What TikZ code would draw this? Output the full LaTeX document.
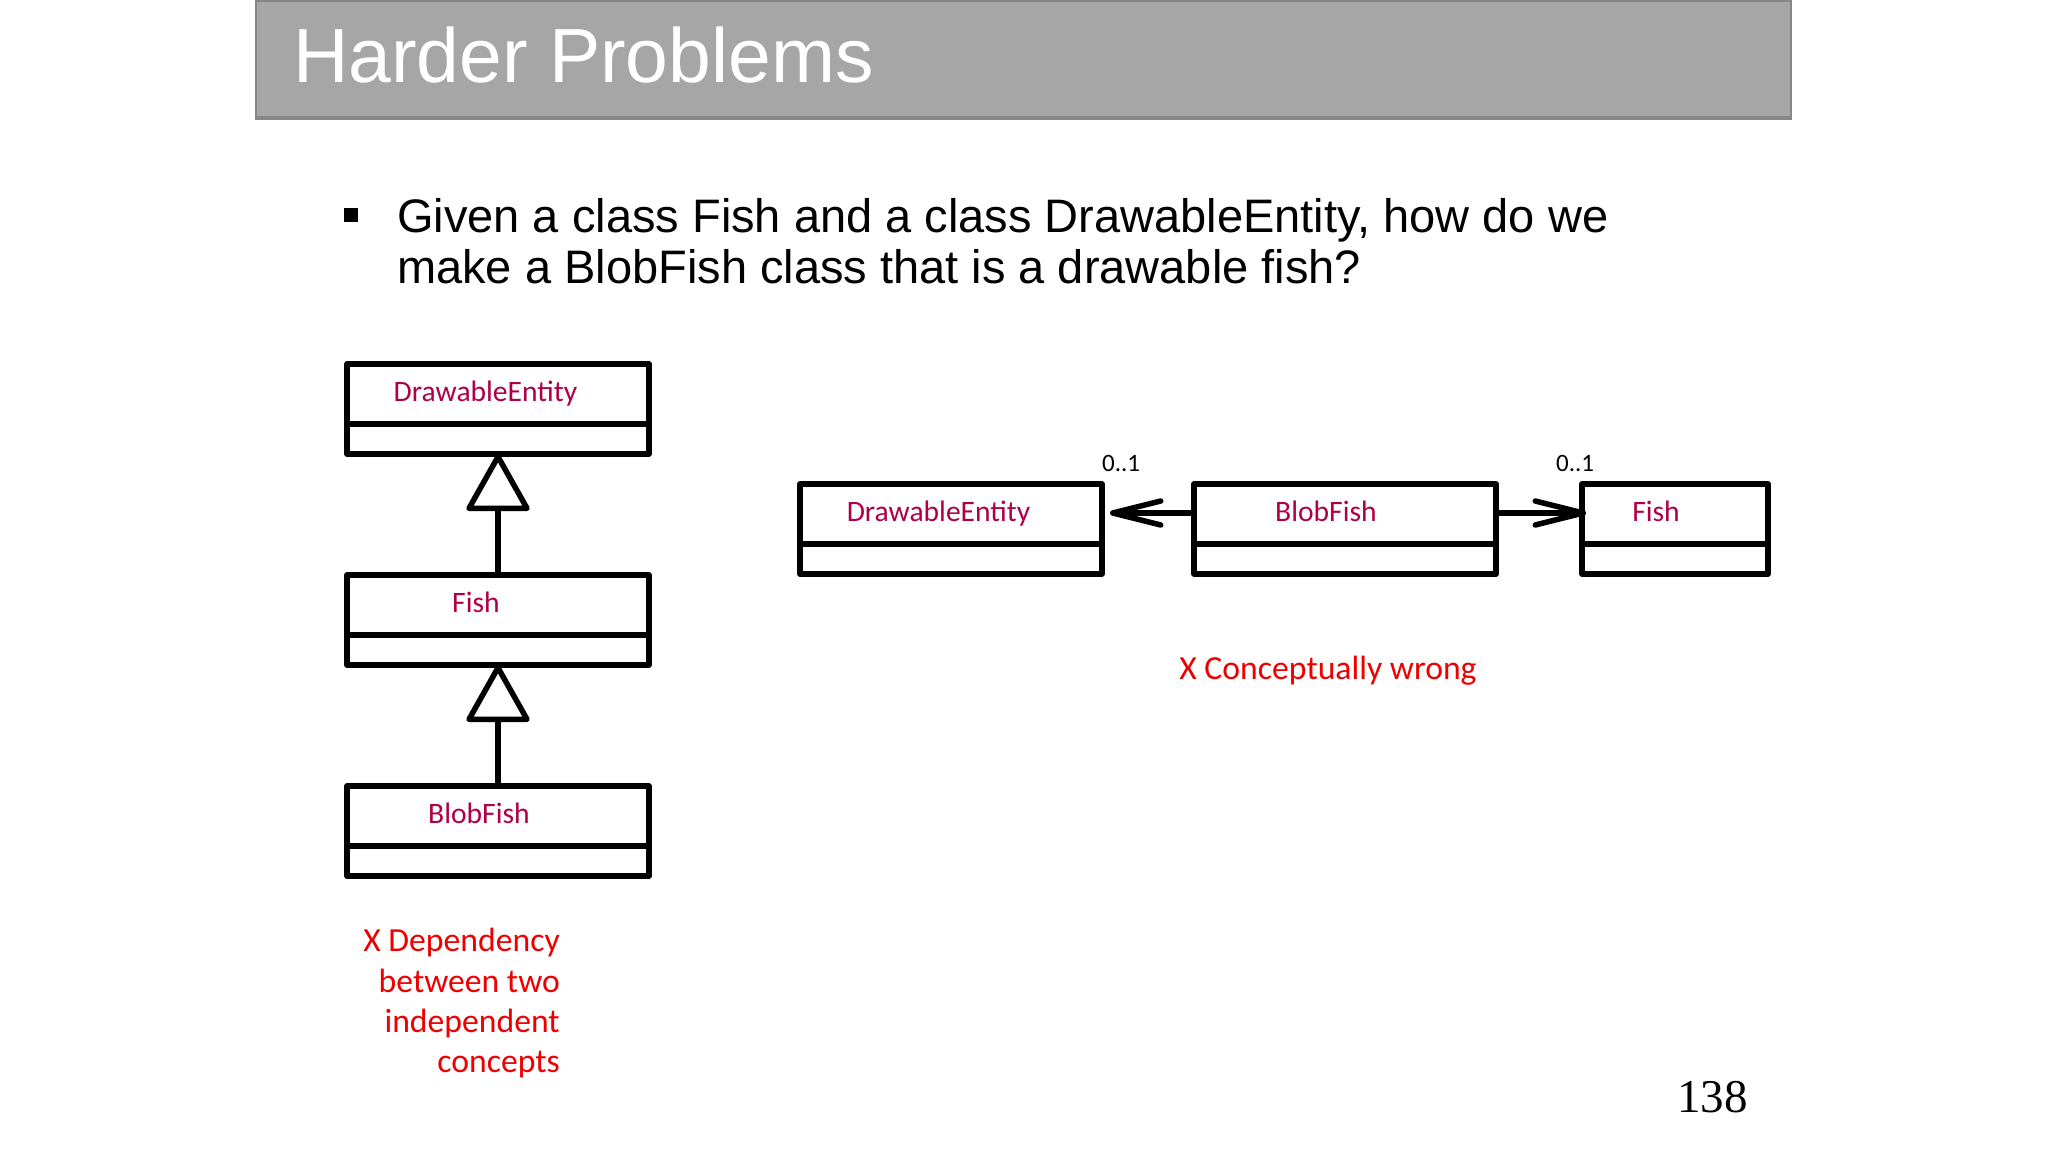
\documentclass[tikz,border=0pt]{standalone}
\usepackage{fontspec}
\usetikzlibrary{arrows.meta}
\newfontfamily\slidefont{Liberation Sans}
\newfontfamily\umlfont{Carlito}
\newfontfamily\pagefont{Liberation Serif}
\definecolor{titlegray}{HTML}{A6A6A6}
\definecolor{titleedge}{HTML}{868686}
\definecolor{umlred}{HTML}{AE0048}
\definecolor{warnred}{HTML}{EE0000}
\tikzset{
    umlclass/.style={draw, line width=5.5pt, line join=round, minimum width=302pt, minimum height=90pt, inner sep=0pt, outer sep=0pt},
    divider/.style={line width=5.5pt},
    classlabel/.style={anchor=base, inner sep=0pt, text=umlred, font={\umlfont\fontsize{29.6}{33}\selectfont}},
    mult/.style={anchor=base west, inner sep=0pt, font={\umlfont\fontsize{25}{30}\selectfont}},
    warn/.style={inner sep=0pt, text=warnred, font={\umlfont\fontsize{33.7}{40}\selectfont}},
    slidetext/.style={anchor=base west, inner sep=0pt, font={\slidefont\fontsize{47}{52}\selectfont}},
    inherit/.style={line width=5.5pt, -{Triangle[open, round, length=60pt, width=66pt]}},
    assoc/.style={line width=5.5pt, -{Straight Barb[round, length=48pt, width=24pt]}}
}
\begin{document}
\begin{tikzpicture}[x=1pt, y=-1pt]
    \useasboundingbox (0,0) rectangle (2048,1152);
    \fill[white] (0,0) rectangle (2048,1152);

    \fill[titlegray] (255,0) rectangle (1792,120);
    \draw[titleedge, line width=2pt] (256,1) rectangle (1791,119);
    \draw[titleedge, line width=4pt] (255,118) -- (1792,118);
    \node[anchor=base west, inner sep=0pt, text=white, font={\slidefont\fontsize{76.8}{80}\selectfont}] (title) at (293,82) {Harder Problems};

    \node[fill=black, minimum size=14pt, inner sep=0pt] (bullet) at (350.5,215) {};
    \node[slidetext] (q1) at (397,232) {Given a class Fish and a class DrawableEntity, how do we};
    \node[slidetext] (q2) at (397,283.5) {make a BlobFish class that is a drawable fish?};

    \node[umlclass] (de1) at (498,409) {};
    \node[umlclass] (fish1) at (498,620) {};
    \node[umlclass] (bf1) at (498,831) {};
    \draw[divider] ([yshift=-60pt]de1.north west) -- ([yshift=-60pt]de1.north east);
    \draw[divider] ([yshift=-60pt]fish1.north west) -- ([yshift=-60pt]fish1.north east);
    \draw[divider] ([yshift=-60pt]bf1.north west) -- ([yshift=-60pt]bf1.north east);
    \node[classlabel] (de1name) at ([xshift=-12.5pt, yshift=-37.5pt]de1.north) {DrawableEntity};
    \node[classlabel] (fish1name) at ([xshift=-22pt, yshift=-37.5pt]fish1.north) {Fish};
    \node[classlabel] (bf1name) at ([xshift=-19pt, yshift=-37.5pt]bf1.north) {BlobFish};

    \draw[inherit] (fish1.north) -- (de1.south);
    \draw[inherit] (bf1.north) -- (fish1.south);

    \node[warn, anchor=base east] (dep1) at (560,951.5) {X Dependency};
    \node[warn, anchor=base east] (dep2) at (560,992) {between two};
    \node[warn, anchor=base east] (dep3) at (560,1032) {independent};
    \node[warn, anchor=base east] (dep4) at (560,1072) {concepts};

    \node[umlclass] (de2) at (951,529) {};
    \node[umlclass] (bf2) at (1345,529) {};
    \node[umlclass, minimum width=186pt] (fish2) at (1675,529) {};
    \draw[divider] ([yshift=-60pt]de2.north west) -- ([yshift=-60pt]de2.north east);
    \draw[divider] ([yshift=-60pt]bf2.north west) -- ([yshift=-60pt]bf2.north east);
    \draw[divider] ([yshift=-60pt]fish2.north west) -- ([yshift=-60pt]fish2.north east);
    \node[classlabel] (de2name) at ([xshift=-12.5pt, yshift=-37.5pt]de2.north) {DrawableEntity};
    \node[classlabel] (bf2name) at ([xshift=-19pt, yshift=-37.5pt]bf2.north) {BlobFish};
    \node[classlabel] (fish2name) at ([xshift=-19pt, yshift=-37.5pt]fish2.north) {Fish};

    \draw[assoc, shorten >=8pt] ([yshift=16pt]bf2.west) -- ([yshift=16pt]de2.east);
    \draw[assoc, shorten >=-4pt] ([yshift=16pt]bf2.east) -- ([yshift=16pt]fish2.west);
    \node[mult] (m1) at ([yshift=13pt]de2.north east) {0..1};
    \node[mult] (m2) at ([xshift=-26pt, yshift=13pt]fish2.north west) {0..1};

    \node[warn, anchor=base] (wrong) at (1328,679) {X Conceptually wrong};

    \node[anchor=base east, inner sep=0pt, font={\pagefont\fontsize{47}{50}\selectfont}] (pageno) at (1748,1112) {138};
\end{tikzpicture}
\end{document}
